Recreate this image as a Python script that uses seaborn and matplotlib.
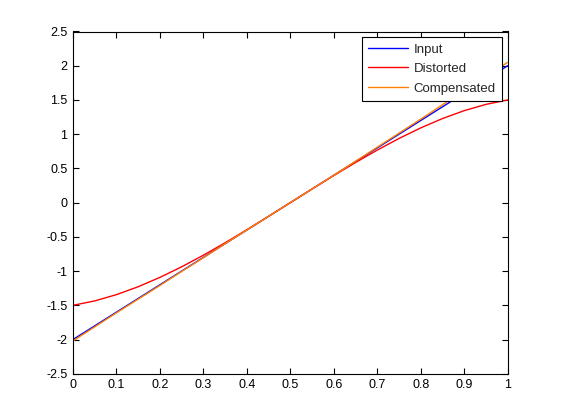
import matplotlib
matplotlib.use("Agg")
import matplotlib.pyplot as plt
import seaborn as sns
import pandas as pd

x = [0.0, 0.05, 0.1, 0.15, 0.2, 0.25, 0.3, 0.35, 0.4, 0.45, 0.5,
     0.55, 0.6, 0.65, 0.7, 0.75, 0.8, 0.85, 0.9, 0.95, 1.0]
input_y = [-2.0, -1.8, -1.6, -1.4, -1.2, -1.0, -0.8, -0.6, -0.4, -0.2, 0.0,
           0.2, 0.4, 0.6, 0.8, 1.0, 1.2, 1.4, 1.6, 1.8, 2.0]
distorted_y = [-1.5, -1.4355, -1.344, -1.2285, -1.092, -0.9375, -0.768, -0.5865, -0.396, -0.1995, 0.0,
               0.1995, 0.396, 0.5865, 0.768, 0.9375, 1.092, 1.2285, 1.344, 1.4355, 1.5]
compensated_y = [-2.02, -1.815, -1.61, -1.41, -1.21, -1.005, -0.805, -0.6, -0.4, -0.2, 0.0,
                 0.2, 0.4, 0.605, 0.81, 1.015, 1.22, 1.43, 1.635, 1.845, 2.05]
series = ["Input", "Distorted", "Compensated"]
colors = ["#0000FF", "#FF0000", "#FF8000"]

df = pd.DataFrame({
    "x": x * 3,
    "y": input_y + distorted_y + compensated_y,
    "series": [series[0]] * len(x) + [series[1]] * len(x) + [series[2]] * len(x),
})

sns.set_theme(style="white")
plt.rcParams["font.family"] = ["Liberation Sans", "DejaVu Sans"]

fig = plt.figure(figsize=(5.61, 4.2), dpi=100)
ax = fig.add_axes([0.13, 0.11, 0.775, 0.815])
sns.lineplot(data=df, x="x", y="y", hue="series", hue_order=series,
             palette=dict(zip(series, colors)), linewidth=1.0, ax=ax,
             estimator=None, sort=False)

ax.set_xlim(0, 1)
ax.set_ylim(-2.5, 2.5)
ax.set_xticks([i / 10 for i in range(11)])
ax.set_xticklabels(["0", "0.1", "0.2", "0.3", "0.4", "0.5", "0.6", "0.7", "0.8", "0.9", "1"])
ax.set_yticks([-2.5 + 0.5 * i for i in range(11)])
ax.set_yticklabels(["-2.5", "-2", "-1.5", "-1", "-0.5", "0", "0.5", "1", "1.5", "2", "2.5"])
ax.set_xlabel("")
ax.set_ylabel("")
ax.tick_params(direction="in", length=4, width=0.8, colors="black", labelsize=9,
               top=True, right=True, bottom=True, left=True, pad=4)
for s in ax.spines.values():
    s.set_color("black")
    s.set_linewidth(0.8)
    s.set_visible(True)

leg = ax.legend(loc="upper right", fontsize=9.5, frameon=True, fancybox=False,
                edgecolor="black", framealpha=1, borderaxespad=0.45,
                handlelength=3.1, handletextpad=0.4, borderpad=0.45, labelspacing=0.55)
leg.get_frame().set_linewidth(0.8)

fig.savefig("out.png", dpi=100)
